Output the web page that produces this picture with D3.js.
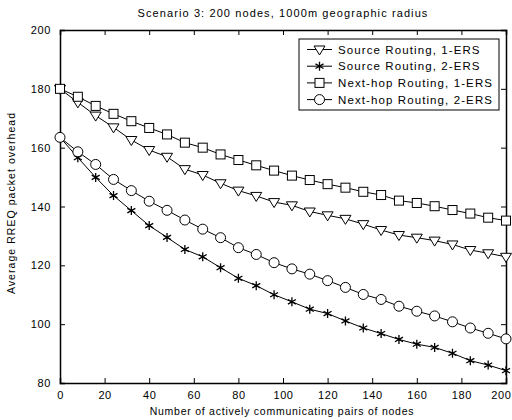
<!DOCTYPE html>
<html>
<head>
<meta charset="utf-8">
<script src="https://cdn.jsdelivr.net/npm/d3@7"></script>
<style>
  body { margin: 0; background: #fff; }
  text { font-family: "Liberation Sans", Arial, sans-serif; fill: #000; }
</style>
</head>
<body>
<div id="canvas"></div>
<script>
const xs = [0, 8, 16, 24, 32, 40, 48, 56, 64, 72, 80, 88, 96, 104, 112, 120, 128, 136, 144, 152, 160, 168, 176, 184, 192, 200];
const src1 = [180, 175.4, 170.9, 166.9, 162.6, 159.2, 156.9, 152.7, 150.7, 147.9, 145.4, 143.6, 141.5, 140.4, 138.3, 137.0, 135.8, 134.0, 132.0, 130.3, 129.4, 128.4, 127.1, 125.2, 124.1, 122.9];
const src2 = [163.5, 156.6, 149.9, 143.7, 138.6, 133.5, 129.5, 125.4, 122.9, 119.2, 115.6, 113.1, 110.0, 107.6, 105.1, 103.6, 101.1, 98.7, 96.8, 94.8, 93.2, 92.1, 90.1, 87.6, 86.1, 84.2];
const nh1 = [180, 177.3, 174.2, 171.5, 169.0, 166.7, 164.5, 161.7, 160.0, 157.7, 155.8, 154.0, 152.2, 150.5, 149.0, 147.6, 146.4, 145.0, 143.9, 142.0, 141.2, 140.1, 138.8, 137.6, 136.2, 135.2];
const nh2 = [163.5, 158.6, 154.3, 149.2, 145.4, 141.8, 138.7, 135.4, 132.3, 129.4, 126.0, 123.7, 120.9, 118.8, 117.0, 114.8, 112.5, 110.1, 108.4, 106.1, 104.4, 102.8, 100.8, 98.7, 96.9, 95.0];
const xTicks = [0, 20, 40, 60, 80, 100, 120, 140, 160, 180, 200];
const yTicks = [80, 100, 120, 140, 160, 180, 200];

const series = [
  { name: "Source Routing, 1-ERS", values: src1, marker: "tri" },
  { name: "Source Routing, 2-ERS", values: src2, marker: "star" },
  { name: "Next-hop Routing, 1-ERS", values: nh1, marker: "square" },
  { name: "Next-hop Routing, 2-ERS", values: nh2, marker: "circle" }
];

const width = 512, height = 420;
const margin = { top: 30, left: 60, bottom: 37, right: 6 };
const iwidth = width - margin.left - margin.right;
const iheight = height - margin.top - margin.bottom;

const svg = d3.select("#canvas").append("svg")
  .attr("width", width).attr("height", height);

const g = svg.append("g").attr("transform", `translate(${margin.left},${margin.top})`);

const x = d3.scaleLinear().domain([0, 200]).range([0, iwidth]);
const y = d3.scaleLinear().domain([80, 200]).range([iheight, 0]);

// axes with inward ticks, matlab style
const fontSize = 11;
g.append("g").attr("transform", `translate(0,${iheight})`)
  .call(d3.axisBottom(x).tickValues(xTicks).tickSize(-5).tickPadding(8))
  .call(a => a.selectAll("text").attr("font-size", fontSize).attr("font-family", null).attr("letter-spacing", 0.6))
  .call(a => a.selectAll("text").filter(d => d === 200).attr("text-anchor", "end").attr("dx", 5));
g.append("g")
  .call(d3.axisTop(x).tickValues(xTicks).tickSize(-5).tickFormat(""));
g.append("g")
  .call(d3.axisLeft(y).tickValues(yTicks).tickSize(-5).tickPadding(9))
  .call(a => a.selectAll("text").attr("font-size", fontSize).attr("font-family", null).attr("letter-spacing", 0.6));
g.append("g").attr("transform", `translate(${iwidth},0)`)
  .call(d3.axisRight(y).tickValues(yTicks).tickSize(-5).tickFormat(""));
g.selectAll(".domain").attr("stroke", "#000").attr("stroke-width", 1.5);
g.selectAll(".tick line").attr("stroke", "#000");

function drawMarker(sel, type) {
  if (type === "tri") {
    sel.append("path").attr("d", "M-5.5,-3.5 L5.5,-3.5 L0,5.5 Z")
      .attr("fill", "#fff").attr("stroke", "#000").attr("stroke-width", 1);
  } else if (type === "square") {
    sel.append("rect").attr("x", -4.5).attr("y", -4.5).attr("width", 9).attr("height", 9)
      .attr("fill", "#fff").attr("stroke", "#000").attr("stroke-width", 1);
  } else if (type === "circle") {
    sel.append("circle").attr("r", 5)
      .attr("fill", "#fff").attr("stroke", "#000").attr("stroke-width", 1);
  } else {
    sel.append("path").attr("d", "M0,-4.5 L0,4.5 M-4,-2.3 L4,2.3 M-4,2.3 L4,-2.3")
      .attr("stroke", "#000").attr("stroke-width", 1.3);
  }
}

const line = d3.line().x((d, i) => x(xs[i])).y(d => y(d));

series.forEach(s => {
  g.append("path").datum(s.values)
    .attr("d", line).attr("fill", "none").attr("stroke", "#000").attr("stroke-width", 1);
  g.selectAll(null).data(s.values).enter().append("g")
    .attr("transform", (d, i) => `translate(${x(xs[i])},${y(d)})`)
    .each(function () { drawMarker(d3.select(this), s.marker); });
});

// legend
const lg = svg.append("g").attr("transform", "translate(299,39)");
lg.append("rect").attr("width", 200).attr("height", 71)
  .attr("fill", "#fff").attr("stroke", "#000").attr("stroke-width", 1);
series.forEach((s, i) => {
  const row = lg.append("g").attr("transform", `translate(0,${10.5 + i * 16.7})`);
  row.append("line").attr("x1", 8).attr("x2", 33).attr("stroke", "#000");
  drawMarker(row.append("g").attr("transform", "translate(20.5,0)"), s.marker);
  row.append("text").attr("x", 39).attr("dy", "0.35em")
    .attr("font-size", 11.5).attr("letter-spacing", 1.1).text(s.name);
});

// title and axis labels
svg.append("text").attr("x", 283).attr("y", 17).attr("text-anchor", "middle")
  .attr("font-size", 11).attr("letter-spacing", 1.1)
  .text("Scenario 3: 200 nodes, 1000m geographic radius");
svg.append("text").attr("x", 282).attr("y", 415).attr("text-anchor", "middle")
  .attr("font-size", 10.5).attr("letter-spacing", 0.75)
  .text("Number of actively communicating pairs of nodes");
svg.append("text").attr("transform", "translate(15,203) rotate(-90)").attr("text-anchor", "middle")
  .attr("font-size", 10.5).attr("letter-spacing", 1.05)
  .text("Average RREQ packet overhead");
</script>
</body>
</html>
